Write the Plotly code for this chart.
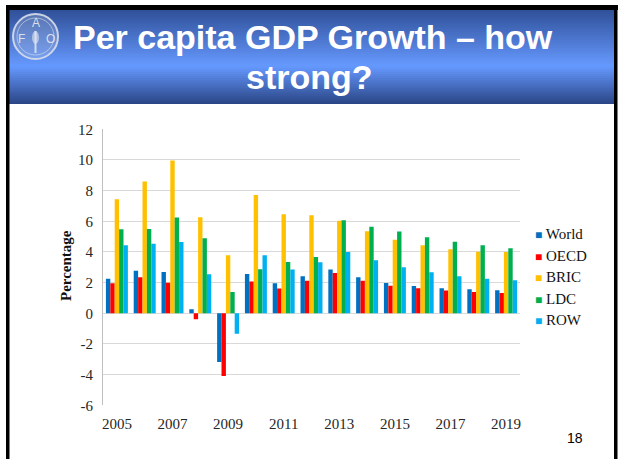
import plotly.graph_objects as go

# ---------------- data ----------------
years = list(range(2005, 2020))
series_names = ["World", "OECD", "BRIC", "LDC", "ROW"]
world = [2.26, 2.78, 2.70, 0.26, -3.17, 2.57, 1.96, 2.41, 2.85, 2.35, 1.98, 1.78, 1.63, 1.57, 1.50]
oecd = [1.96, 2.35, 2.00, -0.39, -4.09, 2.07, 1.61, 2.13, 2.63, 2.13, 1.80, 1.63, 1.48, 1.39, 1.33]
bric = [7.43, 8.60, 9.96, 6.26, 3.78, 7.72, 6.46, 6.39, 6.04, 5.35, 4.80, 4.43, 4.17, 4.02, 4.00]
ldc = [5.48, 5.50, 6.24, 4.89, 1.39, 2.87, 3.35, 3.67, 6.07, 5.65, 5.33, 4.96, 4.67, 4.43, 4.24]
row = [4.43, 4.54, 4.65, 2.54, -1.33, 3.78, 2.85, 3.33, 4.00, 3.46, 3.00, 2.67, 2.41, 2.26, 2.15]
series_values = [world, oecd, bric, ldc, row]
series_colors = ["#0070C0", "#FF0000", "#FFC000", "#00B050", "#00B0F0"]

x_tick_values = [2005, 2007, 2009, 2011, 2013, 2015, 2017, 2019]
x_tick_labels = ["2005", "2007", "2009", "2011", "2013", "2015", "2017", "2019"]
y_tick_values = [-6, -4, -2, 0, 2, 4, 6, 8, 10, 12]
y_tick_labels = ["-6", "-4", "-2", "0", "2", "4", "6", "8", "10", "12"]

title_line1 = "Per capita GDP Growth \u2013 how"
title_line2 = "strong?"
y_title = "Percentage"
page_number = "18"

# ---------------- geometry helpers ----------------
W, H = 618, 459
def px(x):
    return x / W
def py(y):
    return 1 - y / H

PLOT_L, PLOT_R = 103, 520
PLOT_T, PLOT_B = 129.3, 405.3
YMIN, YMAX = -6, 12
dom_x = [px(PLOT_L), px(PLOT_R)]
dom_y = [py(PLOT_B), py(PLOT_T)]
zero_pos = dom_y[0] + (dom_y[1] - dom_y[0]) * (0 - YMIN) / (YMAX - YMIN)

serif = "Liberation Serif, Times New Roman, serif"
sans = "Liberation Sans, Arial, sans-serif"

fig = go.Figure()
for name, vals, col in zip(series_names, series_values, series_colors):
    fig.add_trace(go.Bar(x=years, y=vals, name=name, marker=dict(color=col, line=dict(width=0)),
                         showlegend=False))

shapes = []
# header gradient (decorative overlapping strips)
top_c = (0x30, 0x50, 0x98)
mid_c = (0x66, 0x99, 0xFF)
bot_c = (0x2A, 0x45, 0x85)
HT, HM, HB = 10, 66, 104
n = 47
for i in range(n):
    y0 = HT + (HB - HT) * i / n
    y1 = HT + (HB - HT) * (i + 1) / n
    yc = (y0 + y1) / 2
    if yc <= HM:
        t = (yc - HT) / (HM - HT)
        a, b = top_c, mid_c
    else:
        t = (yc - HM) / (HB - HM)
        a, b = mid_c, bot_c
    c = tuple(int(round(a[k] + (b[k] - a[k]) * t)) for k in range(3))
    shapes.append(dict(type="rect", xref="paper", yref="paper",
                       x0=px(9), x1=px(614), y0=py(min(y1 + 1.5, HB)), y1=py(y0),
                       fillcolor="rgb(%d,%d,%d)" % c, line=dict(width=0), layer="below"))
# black frame
shapes.append(dict(type="rect", xref="paper", yref="paper", x0=px(6), x1=px(618), y0=py(10), y1=py(5),
                   fillcolor="black", line=dict(width=0)))
shapes.append(dict(type="rect", xref="paper", yref="paper", x0=px(6), x1=px(9.5), y0=py(459), y1=py(5),
                   fillcolor="black", line=dict(width=0)))
shapes.append(dict(type="rect", xref="paper", yref="paper", x0=px(614), x1=px(617.5), y0=py(459), y1=py(5),
                   fillcolor="black", line=dict(width=0)))
# logo circle
shapes.append(dict(type="circle", xref="paper", yref="paper", x0=px(13), x1=px(58), y0=py(59), y1=py(14),
                   fillcolor="rgba(200,210,230,0.25)", line=dict(color="rgba(215,222,235,0.9)", width=2)))
shapes.append(dict(type="circle", xref="paper", yref="paper", x0=px(17), x1=px(54), y0=py(55), y1=py(18),
                   fillcolor="rgba(0,0,0,0)", line=dict(color="rgba(215,222,235,0.6)", width=1)))
# logo wheat stalk
shapes.append(dict(type="line", xref="paper", yref="paper", x0=px(35.5), x1=px(35.5), y0=py(53), y1=py(31),
                   line=dict(color="rgba(225,230,240,0.85)", width=2)))
shapes.append(dict(type="circle", xref="paper", yref="paper", x0=px(32), x1=px(39), y0=py(44), y1=py(31),
                   fillcolor="rgba(225,230,240,0.6)", line=dict(width=0)))

annotations = [
    dict(text="<b>" + title_line1 + "</b>", x=px(313), y=py(37), xref="paper", yref="paper", showarrow=False,
         xanchor="center", yanchor="middle", font=dict(family=sans, size=34, color="white")),
    dict(text="<b>" + title_line2 + "</b>", x=px(309), y=py(77), xref="paper", yref="paper", showarrow=False,
         xanchor="center", yanchor="middle", font=dict(family=sans, size=34, color="white")),
    dict(text="<b>" + y_title + "</b>", x=px(66), y=py(266), xref="paper", yref="paper", showarrow=False,
         textangle=-90, xanchor="center", yanchor="middle", font=dict(family=serif, size=15, color="#111111")),
    dict(text=page_number, x=px(575), y=py(438), xref="paper", yref="paper", showarrow=False,
         xanchor="center", yanchor="middle", font=dict(family=sans, size=14, color="black")),
]
# FAO logo letters
for letter, lx, ly in [("F", 21, 39), ("A", 35.5, 23), ("O", 50, 39)]:
    annotations.append(dict(text=letter, x=px(lx), y=py(ly), xref="paper", yref="paper", showarrow=False,
                            xanchor="center", yanchor="middle",
                            font=dict(family=sans, size=12, color="rgba(225,230,240,0.95)")))
# legend
leg_y = [234, 255.5, 277, 298.5, 320]
for name, col, ly in zip(series_names, series_colors, leg_y):
    annotations.append(dict(
        text='<span style="color:%s;font-size:12px">\u25A0</span> %s' % (col, name),
        x=px(533), y=py(ly), xref="paper", yref="paper", showarrow=False,
        xanchor="left", yanchor="middle", font=dict(family=serif, size=15, color="#111111")))

fig.update_layout(
    width=W, height=H, margin=dict(l=0, r=0, t=0, b=0, pad=0, autoexpand=False),
    paper_bgcolor="white", plot_bgcolor="white",
    barmode="group", bargap=0.21, bargroupgap=0,
    showlegend=False,
    shapes=shapes, annotations=annotations,
    xaxis=dict(domain=dom_x, range=[2004.5, 2019.5], tickvals=x_tick_values, ticktext=x_tick_labels,
               showgrid=False, zeroline=False, showline=False, ticks="", ticklabelstandoff=8,
               automargin=False,
               tickfont=dict(family=serif, size=15, color="#262626"), anchor="y"),
    xaxis2=dict(domain=dom_x, range=[2004.5, 2019.5], overlaying="x", anchor="free", position=zero_pos,
                tickvals=[y + 0.5 for y in years[:-1]] + [years[0] - 0.5, years[-1] + 0.5],
                showticklabels=False, ticks="outside", ticklen=4, tickcolor="#BFBFBF", automargin=False,
                showline=True, linecolor="#BFBFBF", linewidth=1, showgrid=False, zeroline=False),
    yaxis=dict(domain=dom_y, range=[YMIN, YMAX], tickvals=y_tick_values, ticktext=y_tick_labels,
               showgrid=True, gridcolor="#D9D9D9", gridwidth=1, zeroline=False, automargin=False,
               showline=True, linecolor="#BFBFBF", linewidth=1, ticks="", ticklabelstandoff=6,
               tickfont=dict(family=serif, size=15, color="#262626")),
)

fig.write_html(
    "out.html",
    config={"displayModeBar": False},
    post_script=("document.documentElement.style.margin='0';document.documentElement.style.overflow='hidden';"
                 "document.body.style.margin='0';document.body.style.padding='0';"
                 "document.body.style.overflow='hidden';"),
)
